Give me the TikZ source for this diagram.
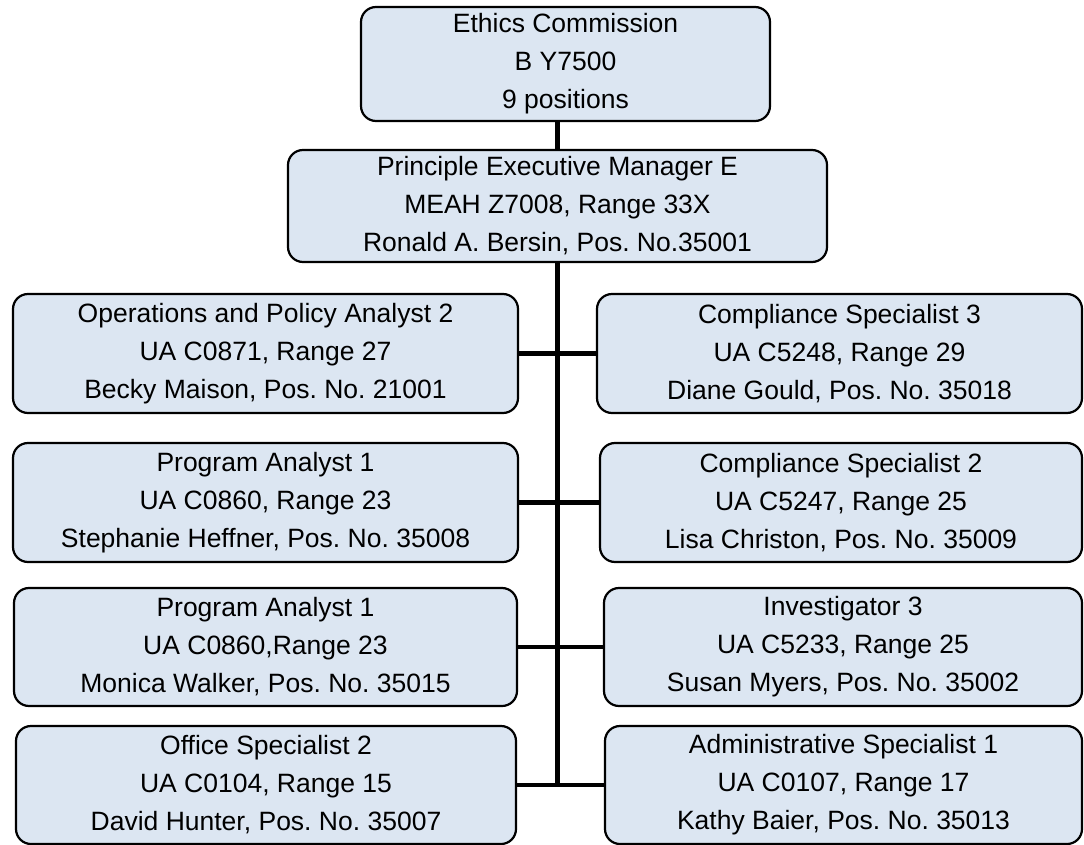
\documentclass[tikz,border=0pt]{standalone}
\usepackage{fontspec}
\setmainfont{Liberation Sans}
\definecolor{boxfill}{HTML}{DCE6F2}
\begin{document}
\frenchspacing
\begin{tikzpicture}[x=1pt,y=-1pt,
  orgbox/.style={draw=black, line width=2.2pt, fill=boxfill, rounded corners=15pt,
    align=center, inner sep=0pt, font=\fontsize{26.5}{38}\selectfont},
  conn/.style={draw=black, line width=4.5pt},
  trunk/.style={draw=black, line width=5pt}]
\useasboundingbox (0,0) rectangle (1084,845);

% executive levels
\node[orgbox, minimum width=409pt, minimum height=114pt] (ec) at (565.5,64)
  {Ethics Commission\\B Y7500\\9 positions};
\node[orgbox, minimum width=539pt, minimum height=112pt] (pem) at (557.5,206)
  {Principle Executive Manager E\\MEAH Z7008, Range 33X\\Ronald A. Bersin, Pos. No.35001};

% left column
\node[orgbox, minimum width=505pt, minimum height=119pt] (l1) at (265.5,353.5)
  {Operations and Policy Analyst 2\\UA C0871, Range 27\\Becky Maison, Pos. No. 21001};
\node[orgbox, minimum width=505pt, minimum height=119pt] (l2) at (265.5,502.5)
  {Program Analyst 1\\UA C0860, Range 23\\Stephanie Heffner, Pos. No. 35008};
\node[orgbox, minimum width=503pt, minimum height=118pt] (l3) at (265.5,647)
  {Program Analyst 1\\UA C0860,Range 23\\Monica Walker, Pos. No. 35015};
\node[orgbox, minimum width=500pt, minimum height=118pt] (l4) at (266,785)
  {Office Specialist 2\\UA C0104, Range 15\\David Hunter, Pos. No. 35007};

% right column
\node[orgbox, minimum width=485pt, minimum height=119pt] (r1) at (839.5,353.5)
  {Compliance Specialist 3\\UA C5248, Range 29\\Diane Gould, Pos. No. 35018};
\node[orgbox, minimum width=482pt, minimum height=119pt] (r2) at (841,502.5)
  {Compliance Specialist 2\\UA C5247, Range 25\\Lisa Christon, Pos. No. 35009};
\node[orgbox, minimum width=478pt, minimum height=118pt] (r3) at (843,647)
  {Investigator 3\\UA C5233, Range 25\\Susan Myers, Pos. No. 35002};
\node[orgbox, minimum width=477pt, minimum height=118pt] (r4) at (843.5,785)
  {Administrative Specialist 1\\UA C0107, Range 17\\Kathy Baier, Pos. No. 35013};

% reporting lines: trunk from the commission down to the last row
\draw[conn] (pem.north) -- (pem.north |- ec.south);
\draw[trunk] (pem.south) -- (pem.south |- l4.east);
% branches to each position
\foreach \n in {l1,l2,l3,l4}
  \draw[conn] (\n.east) -- (\n.east -| pem.south);
\foreach \n in {r1,r2,r3,r4}
  \draw[conn] (\n.west) -- (\n.west -| pem.south);
\end{tikzpicture}
\end{document}
